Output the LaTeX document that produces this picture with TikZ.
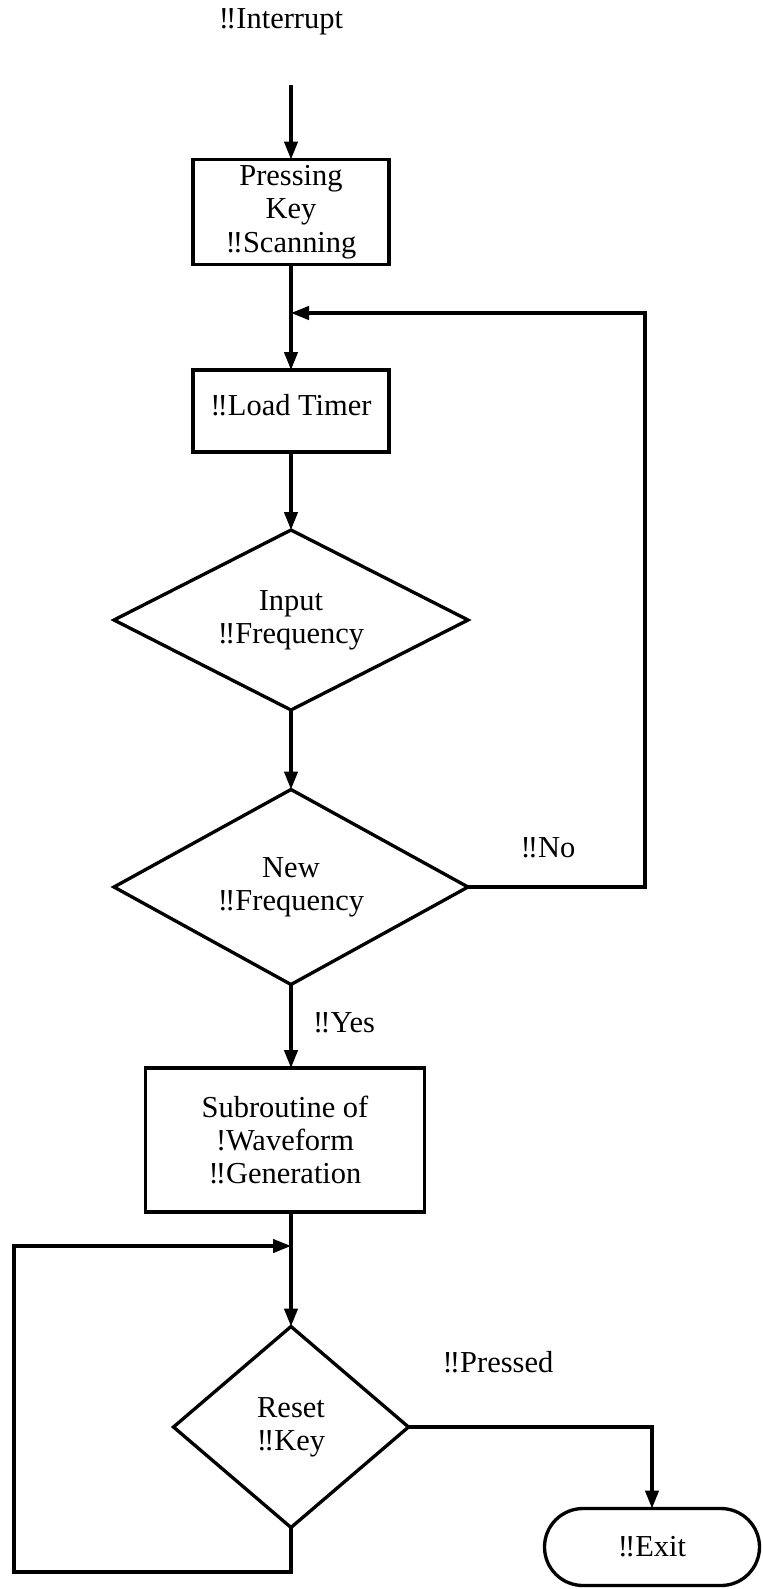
\documentclass[tikz,border=0pt]{standalone}
\usepackage{fontspec}
\setmainfont{Liberation Serif}
\usetikzlibrary{shapes.geometric,shapes.misc,arrows.meta}

\begin{document}
\begin{tikzpicture}[x=0.03cm,y=-0.03cm,
    proc/.style={draw,line width=0.1cm,rectangle,align=center,inner sep=0pt,outer sep=0pt},
    decision/.style={draw,line width=0.1cm,diamond,aspect=2,align=center,inner sep=0pt,outer sep=0pt},
    term/.style={draw,line width=0.1cm,rounded rectangle,align=center,inner sep=0pt,outer sep=0pt},
    flow/.style={line width=0.1cm,-{Triangle[length=0.54cm,width=0.4cm]}},
    lbl/.style={inner sep=0pt}]
    \fontsize{26pt}{28.5pt}\selectfont
    \useasboundingbox (0,0) rectangle (763,1589);

    % Start
    \node[lbl] (interrupt) at (281,22) {‼Interrupt};
    \coordinate (start) at (291,85);

    % Boxes
    \node[proc,minimum width=5.88cm,minimum height=3.15cm] (scan) at (291,212) {Pressing\\Key\\‼Scanning};
    \node[proc,minimum width=5.88cm,minimum height=2.46cm,text depth=0.35cm] (load) at (291,411) {‼Load Timer};

    % Decisions
    \node[decision,minimum width=10.62cm,minimum height=5.4cm] (inputfreq) at (291,620) {Input\\‼Frequency};
    \node[decision,minimum width=10.62cm,minimum height=5.85cm] (newfreq) at (291,887) {New\\‼Frequency};

    % Subroutine
    \node[proc,minimum width=8.37cm,minimum height=4.32cm] (subroutine) at (285,1140) {Subroutine of\\!Waveform\\‼Generation};

    % Reset and exit
    \node[decision,aspect=1.2,minimum width=7.05cm,minimum height=6.03cm] (reset) at (291,1427) {Reset\\‼Key};
    \node[term,minimum width=6.45cm,minimum height=2.31cm] (exit) at (652,1547) {‼Exit};

    % Loop points
    \coordinate (join1) at (291,313);
    \coordinate (nocorner) at (645,313);
    \coordinate (join2) at (291,1246);
    \coordinate (rbottom) at (291,1572);
    \coordinate (rcorner) at (14,1246);

    % Arrows
    \draw[flow] (start) -- (scan.north);
    \draw[flow] (scan.south) -- (load.north);
    \draw[flow] (load.south) -- (inputfreq.north);
    \draw[flow] (inputfreq.south) -- (newfreq.north);
    \draw[flow] (newfreq.south) -- (subroutine.north -| newfreq.south);
    \draw[flow] (newfreq.east) -| (nocorner) -- (join1);
    \draw[flow] (subroutine.south -| reset.north) -- (reset.north);
    \draw[flow] (reset.south) -- (rbottom) -| (rcorner) -- (join2);
    \draw[flow] (reset.east) -| (exit.north);

    % Labels
    \node[lbl] (no) at (548,848) {‼No};
    \node[lbl] (yes) at (344,1023) {‼Yes};
    \node[lbl] (pressed) at (498,1362) {‼Pressed};
\end{tikzpicture}
\end{document}
